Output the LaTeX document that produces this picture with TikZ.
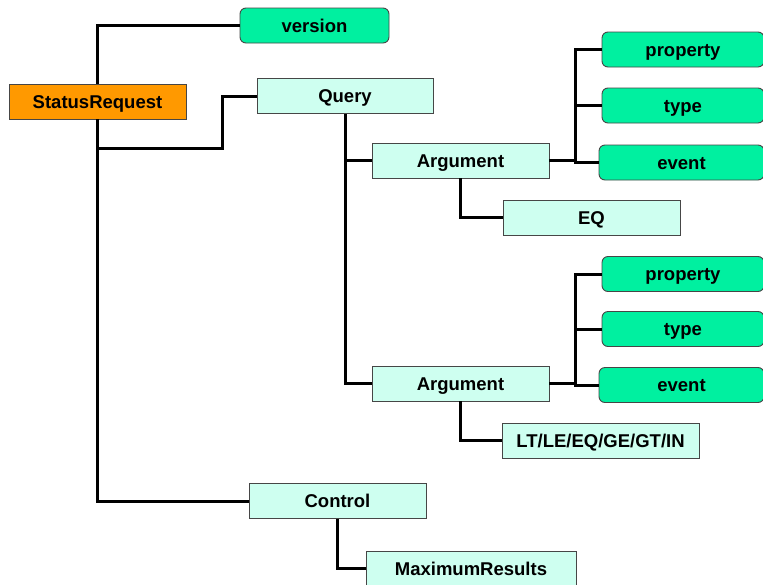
\documentclass[tikz,border=0pt]{standalone}
\usepackage{fontspec}
\setmainfont{Liberation Sans}
\definecolor{rootorange}{RGB}{255,153,0}
\definecolor{elemcyan}{RGB}{206,255,240}
\definecolor{attrgreen}{RGB}{0,240,160}
\definecolor{boxedge}{RGB}{70,70,70}
\tikzset{
  box/.style={draw=boxedge, line width=0.9pt, inner sep=0pt, minimum height=35pt,
              text height=13pt, text depth=0pt,
              font=\fontsize{18.5}{22}\selectfont\bfseries, text=black},
  rootbox/.style={box, fill=rootorange},
  elembox/.style={box, fill=elemcyan},
  attrbox/.style={box, fill=attrgreen, rounded corners=6pt},
  link/.style={line width=3pt, black}
}
\begin{document}
\begin{tikzpicture}[x=1pt,y=-1pt]
  \useasboundingbox (0,0) rectangle (763,584);
  \clip (0,0) rectangle (763,584);
  \fill[white] (0,0) rectangle (763,584);

  % element and attribute boxes
  \node[rootbox, minimum width=177pt] (sr)    at (97.5,101.5) {StatusRequest};
  \node[attrbox, minimum width=149pt] (ver)   at (314.5,25.5) {version};
  \node[elembox, minimum width=176pt] (query) at (345,96)     {Query};
  \node[elembox, minimum width=177pt] (arg1)  at (460.5,160.5) {Argument};
  \node[elembox, minimum width=177pt] (eq)    at (591.5,217.5) {EQ};
  \node[attrbox, minimum width=162pt] (prop1) at (683,49.5)   {property};
  \node[attrbox, minimum width=162pt] (type1) at (683,105.5)  {type};
  \node[attrbox, minimum width=165pt] (evt1)  at (681.5,162.5) {event};
  \node[elembox, minimum width=177pt] (arg2)  at (460.5,383.5) {Argument};
  \node[elembox, minimum width=197pt] (ops)   at (600.5,440.5) {LT/LE/EQ/GE/GT/IN};
  \node[attrbox, minimum width=162pt] (prop2) at (683,274)    {property};
  \node[attrbox, minimum width=162pt] (type2) at (683,329)    {type};
  \node[attrbox, minimum width=165pt] (evt2)  at (681.5,385)  {event};
  \node[elembox, minimum width=177pt] (ctl)   at (337.5,501)  {Control};
  \node[elembox, minimum width=210pt] (maxr)  at (471,568.5)  {MaximumResults};

  % junction points of the tree lines
  \coordinate (jq)   at (97.5,148);
  \coordinate (jqx)  at (222,148);
  \coordinate (bus1) at (575,0);
  \coordinate (bus2) at (575,0);

  % StatusRequest children
  \draw[link] (sr.north) |- (ver.west);
  \draw[link] (sr.south) |- (ctl.west);
  \draw[link] (jq) -- (jqx) |- (query.west);

  % Query children
  \draw[link] (query.south) |- (arg2.west);
  \draw[link] (query.south |- arg1.west) -- (arg1.west);

  % first Argument
  \draw[link] (arg1.south) |- (eq.west);
  \draw[link] (arg1.east) -- (arg1.east -| bus1);
  \draw[link] (prop1.west) -| (bus1 |- evt1.west) -- (evt1.west);
  \draw[link] (bus1 |- type1.west) -- (type1.west);

  % second Argument
  \draw[link] (arg2.south) |- (ops.west);
  \draw[link] (arg2.east) -- (arg2.east -| bus2);
  \draw[link] (prop2.west) -| (bus2 |- evt2.west) -- (evt2.west);
  \draw[link] (bus2 |- type2.west) -- (type2.west);

  % Control child
  \draw[link] (ctl.south) |- (maxr.west);
\end{tikzpicture}
\end{document}
